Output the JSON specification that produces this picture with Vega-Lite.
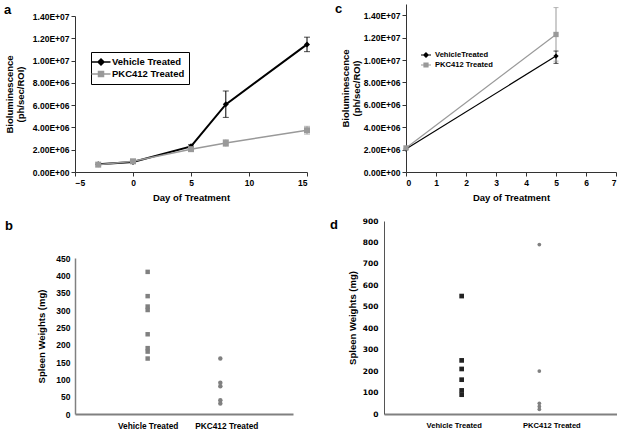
{
  "$schema": "https://vega.github.io/schema/vega-lite/v6.json",
  "background": "white",
  "padding": {"left": 4, "top": 3, "right": 0, "bottom": 0},
  "spacing": 15,
  "resolve": {"scale": {"color": "independent", "shape": "independent", "size": "independent", "strokeWidth": "independent"}},
  "config": {
    "font": "Liberation Sans",
    "view": {"stroke": null},
    "axis": {"grid": false, "labelColor": "#000", "titleColor": "#000", "labelFontWeight": "bold", "titleFontWeight": "bold", "labelFont": "Liberation Sans", "titleFont": "Liberation Sans"},
    "title": {"fontSize": 13, "fontWeight": "bold", "anchor": "start", "frame": "group", "baseline": "alphabetic", "color": "#000"}
  },
  "datasets": {
    "bio_a": [
      {"group": "Vehicle Treated", "day": -3, "value": 690000},
      {"group": "Vehicle Treated", "day": 0, "value": 900000},
      {"group": "Vehicle Treated", "day": 5, "value": 2300000, "lo": 2150000, "hi": 2450000},
      {"group": "Vehicle Treated", "day": 8, "value": 6070000, "lo": 4900000, "hi": 7270000},
      {"group": "Vehicle Treated", "day": 15, "value": 11450000, "lo": 10800000, "hi": 12100000},
      {"group": "PKC412 Treated", "day": -3, "value": 660000},
      {"group": "PKC412 Treated", "day": 0, "value": 960000},
      {"group": "PKC412 Treated", "day": 5, "value": 2050000},
      {"group": "PKC412 Treated", "day": 8, "value": 2600000, "lo": 2300000, "hi": 2900000},
      {"group": "PKC412 Treated", "day": 15, "value": 3750000, "lo": 3400000, "hi": 4100000}
    ],
    "bio_c": [
      {"group": "VehicleTreated", "day": 0, "value": 2050000},
      {"group": "VehicleTreated", "day": 5, "value": 10350000, "lo": 9700000, "hi": 10800000},
      {"group": "PKC412 Treated", "day": 0, "value": 2150000},
      {"group": "PKC412 Treated", "day": 5, "value": 12280000, "lo": 9900000, "hi": 14680000}
    ],
    "spleen_b": [
      {"group": "Vehicle Treated", "weight": 410},
      {"group": "Vehicle Treated", "weight": 340},
      {"group": "Vehicle Treated", "weight": 310},
      {"group": "Vehicle Treated", "weight": 300},
      {"group": "Vehicle Treated", "weight": 230},
      {"group": "Vehicle Treated", "weight": 190},
      {"group": "Vehicle Treated", "weight": 180},
      {"group": "Vehicle Treated", "weight": 160},
      {"group": "PKC412 Treated", "weight": 160},
      {"group": "PKC412 Treated", "weight": 90},
      {"group": "PKC412 Treated", "weight": 80},
      {"group": "PKC412 Treated", "weight": 40},
      {"group": "PKC412 Treated", "weight": 30}
    ],
    "spleen_d": [
      {"group": "Vehicle Treated", "weight": 550},
      {"group": "Vehicle Treated", "weight": 250},
      {"group": "Vehicle Treated", "weight": 210},
      {"group": "Vehicle Treated", "weight": 160},
      {"group": "Vehicle Treated", "weight": 110},
      {"group": "Vehicle Treated", "weight": 90},
      {"group": "PKC412 Treated", "weight": 790},
      {"group": "PKC412 Treated", "weight": 200},
      {"group": "PKC412 Treated", "weight": 50},
      {"group": "PKC412 Treated", "weight": 35},
      {"group": "PKC412 Treated", "weight": 22}
    ]
  },
  "vconcat": [
    {
      "spacing": 24,
      "resolve": {"scale": {"color": "independent", "shape": "independent", "size": "independent", "strokeWidth": "independent"}},
      "hconcat": [
        {
          "title": {"text": "a", "dx": -71, "offset": -13},
          "width": 232,
          "height": 168,
          "data": {"name": "bio_a"},
          "resolve": {"legend": {"color": "independent"}},
          "encoding": {
            "x": {"field": "day", "type": "quantitative", "scale": {"domain": [-5, 15], "nice": false},
              "axis": {"values": [-5, 0, 5, 10, 15], "title": "Day of Treatment", "titleFontSize": 9.5, "titlePadding": 6, "labelFontSize": 8.5, "tickSize": 4, "labelPadding": 2, "domainColor": "#333", "tickColor": "#333"}},
            "y": {"field": "value", "type": "quantitative", "scale": {"domain": [0, 14000000], "range": [168, 12], "nice": false},
              "axis": {"values": [0, 2000000, 4000000, 6000000, 8000000, 10000000, 12000000, 14000000], "labelExpr": "replace(format(datum.value, '.2e'), 'e+', 'E+0')", "title": ["Bioluminescence", "(ph/sec/ROI)"], "titleFontSize": 9.5, "titleLineHeight": 11, "titlePadding": 7, "labelFontSize": 8.5, "tickSize": 4, "labelPadding": 2, "domainColor": "#333", "tickColor": "#333"}}
          },
          "layer": [
            {
              "transform": [{"filter": "isValid(datum.lo)"}],
              "mark": {"type": "rule", "strokeWidth": 1},
              "encoding": {
                "y": {"field": "lo", "type": "quantitative", "scale": {"domain": [0, 14000000], "range": [168, 12], "nice": false},
                  "axis": {"values": [0, 2000000, 4000000, 6000000, 8000000, 10000000, 12000000, 14000000], "labelExpr": "replace(format(datum.value, '.2e'), 'e+', 'E+0')", "title": ["Bioluminescence", "(ph/sec/ROI)"], "titleFontSize": 9.5, "titleLineHeight": 11, "titlePadding": 7, "labelFontSize": 8.5, "tickSize": 4, "labelPadding": 2, "domainColor": "#333", "tickColor": "#333"}},
                "y2": {"field": "hi"},
                "color": {"field": "group", "type": "nominal", "scale": {"domain": ["Vehicle Treated", "PKC412 Treated"], "range": ["#000000", "#999999"]}, "legend": null}
              }
            },
            {
              "transform": [{"filter": "isValid(datum.lo)"}, {"fold": ["lo", "hi"], "as": ["end", "bound"]}],
              "mark": {"type": "tick", "orient": "horizontal", "size": 6, "thickness": 1},
              "encoding": {
                "y": {"field": "bound", "type": "quantitative", "scale": {"domain": [0, 14000000], "range": [168, 12], "nice": false},
                  "axis": {"values": [0, 2000000, 4000000, 6000000, 8000000, 10000000, 12000000, 14000000], "labelExpr": "replace(format(datum.value, '.2e'), 'e+', 'E+0')", "title": ["Bioluminescence", "(ph/sec/ROI)"], "titleFontSize": 9.5, "titleLineHeight": 11, "titlePadding": 7, "labelFontSize": 8.5, "tickSize": 4, "labelPadding": 2, "domainColor": "#333", "tickColor": "#333"}},
                "color": {"field": "group", "type": "nominal", "scale": {"domain": ["Vehicle Treated", "PKC412 Treated"], "range": ["#000000", "#999999"]}, "legend": null}
              }
            },
            {
              "mark": {"type": "line"},
              "encoding": {
                "strokeWidth": {"field": "group", "type": "nominal", "scale": {"domain": ["Vehicle Treated", "PKC412 Treated"], "range": [2, 1.5]}, "legend": null},
                "color": {"field": "group", "type": "nominal", "scale": {"domain": ["Vehicle Treated", "PKC412 Treated"], "range": ["#000000", "#999999"]},
                  "legend": {"orient": "none", "legendX": 16, "legendY": 48, "title": null, "strokeColor": "#000", "padding": 4, "labelFontSize": 9.5, "labelFontWeight": "bold", "labelColor": "#000", "labelFont": "Liberation Sans", "symbolSize": 100, "rowPadding": 0, "labelOffset": 5,
                    "encode": {"symbols": {"update": {
                      "shape": {"signal": "datum.value == 'Vehicle Treated' ? 'M-1.9,0H1.9M0,-0.6L0.6,0L0,0.6L-0.6,0Z' : 'M-1.9,0H1.9M-0.5,-0.5H0.5V0.5H-0.5Z'"},
                      "fill": {"signal": "datum.value == 'Vehicle Treated' ? '#000' : '#999'"},
                      "stroke": {"signal": "datum.value == 'Vehicle Treated' ? '#000' : '#999'"},
                      "strokeWidth": {"value": 1.5},
                      "opacity": {"value": 1}
                    }}}}}
              }
            },
            {
              "mark": {"type": "point", "filled": true, "opacity": 1},
              "encoding": {
                "shape": {"field": "group", "type": "nominal", "scale": {"domain": ["Vehicle Treated", "PKC412 Treated"], "range": ["diamond", "square"]}, "legend": null},
                "color": {"field": "group", "type": "nominal", "scale": {"domain": ["Vehicle Treated", "PKC412 Treated"], "range": ["#000000", "#999999"]}, "legend": null},
                "size": {"value": 36}
              }
            }
          ]
        },
        {
          "title": {"text": "c", "dx": -71, "offset": -12},
          "width": 210,
          "height": 168,
          "data": {"name": "bio_c"},
          "resolve": {"legend": {"color": "independent"}},
          "encoding": {
            "x": {"field": "day", "type": "quantitative", "scale": {"domain": [0, 7], "nice": false},
              "axis": {"values": [0, 1, 2, 3, 4, 5, 6, 7], "title": "Day of Treatment", "titleFontSize": 9.5, "titlePadding": 6, "labelFontSize": 8.5, "tickSize": 4, "labelPadding": 2, "domainColor": "#333", "tickColor": "#333"}},
            "y": {"field": "value", "type": "quantitative", "scale": {"domain": [0, 15000000], "nice": false},
              "axis": {"values": [0, 2000000, 4000000, 6000000, 8000000, 10000000, 12000000, 14000000], "labelExpr": "replace(format(datum.value, '.2e'), 'e+', 'E+0')", "title": ["Bioluminescence", "(ph/sec/ROI)"], "titleFontSize": 9.5, "titleLineHeight": 11, "titlePadding": 2, "labelFontSize": 8.5, "tickSize": 4, "labelPadding": 2, "domainColor": "#333", "tickColor": "#333"}}
          },
          "layer": [
            {
              "transform": [{"filter": "isValid(datum.lo)"}],
              "mark": {"type": "rule", "strokeWidth": 1},
              "encoding": {
                "y": {"field": "lo", "type": "quantitative", "scale": {"domain": [0, 15000000], "nice": false},
                  "axis": {"values": [0, 2000000, 4000000, 6000000, 8000000, 10000000, 12000000, 14000000], "labelExpr": "replace(format(datum.value, '.2e'), 'e+', 'E+0')", "title": ["Bioluminescence", "(ph/sec/ROI)"], "titleFontSize": 9.5, "titleLineHeight": 11, "titlePadding": 2, "labelFontSize": 8.5, "tickSize": 4, "labelPadding": 2, "domainColor": "#333", "tickColor": "#333"}},
                "y2": {"field": "hi"},
                "color": {"field": "group", "type": "nominal", "scale": {"domain": ["VehicleTreated", "PKC412 Treated"], "range": ["#000000", "#999999"]}, "legend": null}
              }
            },
            {
              "transform": [{"filter": "isValid(datum.lo)"}, {"fold": ["lo", "hi"], "as": ["end", "bound"]}],
              "mark": {"type": "tick", "orient": "horizontal", "size": 5, "thickness": 1},
              "encoding": {
                "y": {"field": "bound", "type": "quantitative", "scale": {"domain": [0, 15000000], "nice": false},
                  "axis": {"values": [0, 2000000, 4000000, 6000000, 8000000, 10000000, 12000000, 14000000], "labelExpr": "replace(format(datum.value, '.2e'), 'e+', 'E+0')", "title": ["Bioluminescence", "(ph/sec/ROI)"], "titleFontSize": 9.5, "titleLineHeight": 11, "titlePadding": 2, "labelFontSize": 8.5, "tickSize": 4, "labelPadding": 2, "domainColor": "#333", "tickColor": "#333"}},
                "color": {"field": "group", "type": "nominal", "scale": {"domain": ["VehicleTreated", "PKC412 Treated"], "range": ["#000000", "#999999"]}, "legend": null}
              }
            },
            {
              "mark": {"type": "line", "strokeWidth": 1.2},
              "encoding": {
                "color": {"field": "group", "type": "nominal", "scale": {"domain": ["VehicleTreated", "PKC412 Treated"], "range": ["#000000", "#999999"]},
                  "legend": {"orient": "none", "legendX": 15, "legendY": 46, "title": null, "padding": 0, "labelFontSize": 7.6, "labelFontWeight": "bold", "labelColor": "#000", "labelFont": "Liberation Sans", "symbolSize": 64, "rowPadding": 0, "labelOffset": 4,
                    "encode": {"symbols": {"update": {
                      "shape": {"signal": "datum.value == 'VehicleTreated' ? 'M-1.25,0H1.25M0,-0.55L0.55,0L0,0.55L-0.55,0Z' : 'M-1.25,0H1.25M-0.5,-0.5H0.5V0.5H-0.5Z'"},
                      "fill": {"signal": "datum.value == 'VehicleTreated' ? '#000' : '#999'"},
                      "stroke": {"signal": "datum.value == 'VehicleTreated' ? '#000' : '#999'"},
                      "strokeWidth": {"value": 1.2},
                      "opacity": {"value": 1}
                    }}}}}
              }
            },
            {
              "mark": {"type": "point", "filled": true, "opacity": 1},
              "encoding": {
                "shape": {"field": "group", "type": "nominal", "scale": {"domain": ["VehicleTreated", "PKC412 Treated"], "range": ["diamond", "square"]}, "legend": null},
                "color": {"field": "group", "type": "nominal", "scale": {"domain": ["VehicleTreated", "PKC412 Treated"], "range": ["#000000", "#999999"]}, "legend": null},
                "size": {"value": 28}
              }
            }
          ]
        }
      ]
    },
    {
      "spacing": 37,
      "resolve": {"scale": {"color": "independent", "shape": "independent", "size": "independent", "strokeWidth": "independent"}},
      "hconcat": [
        {
          "title": {"text": "b", "dx": -70, "offset": -12},
          "width": 218,
          "height": 193,
          "data": {"name": "spleen_b"},
          "mark": {"type": "point", "filled": true, "opacity": 1, "size": 20},
          "encoding": {
            "x": {"field": "group", "type": "nominal", "sort": null, "scale": {"type": "point", "domain": ["Vehicle Treated", "PKC412 Treated"], "padding": 1.08},
              "axis": {"title": null, "ticks": false, "labelAngle": 0, "labelFontSize": 8.3, "labelPadding": 7, "domainColor": "#808080", "domainWidth": 2,
                "labelOffset": {"condition": {"test": "datum.value == 'PKC412 Treated'", "value": 6}, "value": 0}}},
            "y": {"field": "weight", "type": "quantitative", "scale": {"domain": [0, 450], "range": [193, 37], "nice": false},
              "axis": {"values": [0, 50, 100, 150, 200, 250, 300, 350, 400, 450], "title": "Spleen Weights (mg)", "titleFontSize": 9.5, "titlePadding": 9, "labelFontSize": 8.5, "ticks": false, "labelPadding": 5, "domainColor": "#808080", "domainWidth": 1.5}},
            "shape": {"field": "group", "type": "nominal", "scale": {"domain": ["Vehicle Treated", "PKC412 Treated"], "range": ["square", "circle"]}, "legend": null},
            "color": {"value": "#808080"}
          }
        },
        {
          "title": {"text": "d", "dx": -54, "offset": -15},
          "width": 233,
          "height": 193,
          "data": {"name": "spleen_d"},
          "mark": {"type": "point", "filled": true, "opacity": 1},
          "encoding": {
            "x": {"field": "group", "type": "nominal", "sort": null, "scale": {"type": "point", "domain": ["Vehicle Treated", "PKC412 Treated"], "padding": 1},
              "axis": {"title": null, "ticks": false, "labelAngle": 0, "labelFontSize": 7.6, "labelPadding": 7, "domainColor": "#808080", "domainWidth": 2,
                "labelOffset": {"condition": {"test": "datum.value == 'PKC412 Treated'", "value": 12}, "value": -8}}},
            "y": {"field": "weight", "type": "quantitative", "scale": {"domain": [0, 900], "nice": false},
              "axis": {"values": [0, 100, 200, 300, 400, 500, 600, 700, 800, 900], "title": "Spleen Weights (mg)", "titleFontSize": 9.5, "titlePadding": 5, "labelFont": "DejaVu Sans", "labelFontSize": 7.5, "ticks": false, "labelPadding": 6, "domainColor": "#555", "domainWidth": 1}},
            "shape": {"field": "group", "type": "nominal", "scale": {"domain": ["Vehicle Treated", "PKC412 Treated"], "range": ["square", "circle"]}, "legend": null},
            "color": {"field": "group", "type": "nominal", "scale": {"domain": ["Vehicle Treated", "PKC412 Treated"], "range": ["#222222", "#808080"]}, "legend": null},
            "size": {"field": "group", "type": "nominal", "scale": {"domain": ["Vehicle Treated", "PKC412 Treated"], "range": [22, 14]}, "legend": null}
          }
        }
      ]
    }
  ]
}
